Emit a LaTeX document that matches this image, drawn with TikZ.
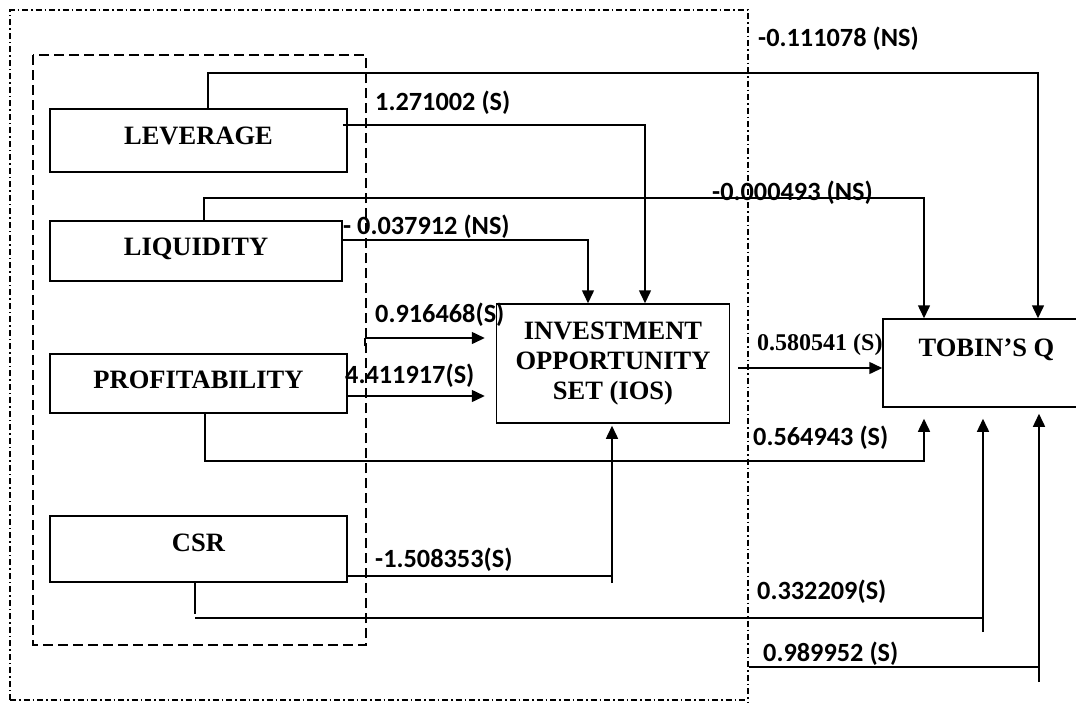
\documentclass[tikz,border=0pt]{standalone}
\usepackage{fontspec}
\setmainfont{Liberation Serif}
\newfontfamily\labfont{Carlito}
\usetikzlibrary{arrows.meta}
\begin{document}
\begin{tikzpicture}[x=1pt,y=-1pt,
  box/.style={draw,line width=1.5pt,inner sep=0pt,align=center,
    font=\fontsize{26.5}{30}\selectfont\bfseries},
  ln/.style={line width=1.5pt},
  arr/.style={line width=1.5pt,-{Triangle[width=12pt,length=13pt]}},
  lab/.style={inner sep=0pt,anchor=west,font=\labfont\fontsize{26.3}{30}\selectfont\bfseries},
  tlab/.style={inner sep=0pt,anchor=west,font=\fontsize{24}{28}\selectfont\bfseries},
  outer/.style={line width=1.2pt,dash pattern=on 6pt off 3pt on 1.5pt off 3pt},
  inner/.style={line width=1.3pt,dash pattern=on 10pt off 5pt}]
\useasboundingbox (0,0) rectangle (1076,702);
% frames
\draw[outer] (10,700) -- (10,10) -- (748,10) -- (748,702);
\draw[outer] (10,700) -- (748,700);
\draw[inner] (33,55) rectangle (366,645);
% boxes
\node[box,minimum width=297pt,minimum height=63pt] (lev) at (198.5,140.5) {\raisebox{10pt}{LEVERAGE}};
\node[box,minimum width=292pt,minimum height=60pt] (liq) at (196,251) {\raisebox{8pt}{LIQUIDITY}};
\node[box,minimum width=297pt,minimum height=59pt] (prof) at (198.5,383.5) {\raisebox{7pt}{PROFITABILITY}};
\node[box,minimum width=297pt,minimum height=66pt] (csr) at (198.5,549) {\raisebox{12pt}{CSR}};
\node[box,minimum width=233pt,minimum height=119pt] (ios) at (613,363.5) {INVESTMENT\\OPPORTUNITY\\SET (IOS)};
\node[box,minimum width=207pt,minimum height=88pt] (tob) at (986.5,363) {\raisebox{30pt}{TOBIN’S Q}};
% coordinates
\coordinate (a1) at (1038,73);
\coordinate (a2) at (645,125);
\coordinate (a3) at (924,198);
\coordinate (a4) at (588,240);
\coordinate (p1) at (365,338);
\coordinate (p1b) at (365,346);
\coordinate (p2) at (924,461);
\coordinate (c1) at (612,576);
\coordinate (c1b) at (612,583);
\coordinate (c2) at (195,614);
\coordinate (c3) at (195,618);
\coordinate (c4) at (983,618);
\coordinate (c5) at (983,632);
\coordinate (d1) at (749,667);
\coordinate (d2) at (1039,667);
\coordinate (d3) at (1039,682);
% connectors
\draw[arr] ([xshift=9.5pt]lev.north) |- (a1) -- (a1 |- tob.north);
\draw[arr] ([xshift=-5pt]lev.east |- a2) -- (a2) -- (a2 |- ios.north);
\draw[arr] ([xshift=8pt]liq.north) |- (a3) -- (a3 |- tob.north);
\draw[arr] (liq.east |- a4) -- (a4) -- (a4 |- ios.north);
\draw[ln] (p1b) -- (p1);
\draw[arr,shorten >=11pt] (p1) -- (ios.west |- p1);
\draw[arr,shorten >=11pt] (prof.east |- 0,396) -- (ios.west |- 0,396);
\draw[arr,shorten >=11pt] ([xshift=6.5pt]prof.south) |- (p2) -- (p2 |- tob.south);
\draw[arr,shorten <=8pt] (ios.east |- 0,368) -- (tob.west |- 0,368);
\draw[ln] (csr.east |- c1) -- (c1);
\draw[arr,shorten >=2pt] (c1b) -- (c1b |- ios.south);
\draw[ln] ([xshift=-3.5pt]csr.south) -- (c2);
\draw[ln] (c3) -- (c4);
\draw[arr,shorten >=11pt] (c5) -- (c5 |- tob.south);
\draw[ln] (d1) -- (d2);
\draw[arr,shorten >=6pt] (d3) -- (d3 |- tob.south);
% labels
\node[lab] (l1) at (758,39) {-0.111078 (NS)};
\node[lab] (l2) at (375,103) {1.271002 (S)};
\node[lab] (l3) at (712,193) {-0.000493 (NS)};
\node[lab] (l4) at (343,227) {- 0.037912 (NS)};
\node[lab] (l5) at (375,315) {0.916468(S)};
\node[lab] (l6) at (345,376) {4.411917(S)};
\node[tlab] (l7) at (757,345) {0.580541 (S)};
\node[lab] (l8) at (753,438) {0.564943 (S)};
\node[lab] (l9) at (375,560) {-1.508353(S)};
\node[lab] (l10) at (757,592) {0.332209(S)};
\node[lab] (l11) at (763,654) {0.989952 (S)};
\end{tikzpicture}
\end{document}
